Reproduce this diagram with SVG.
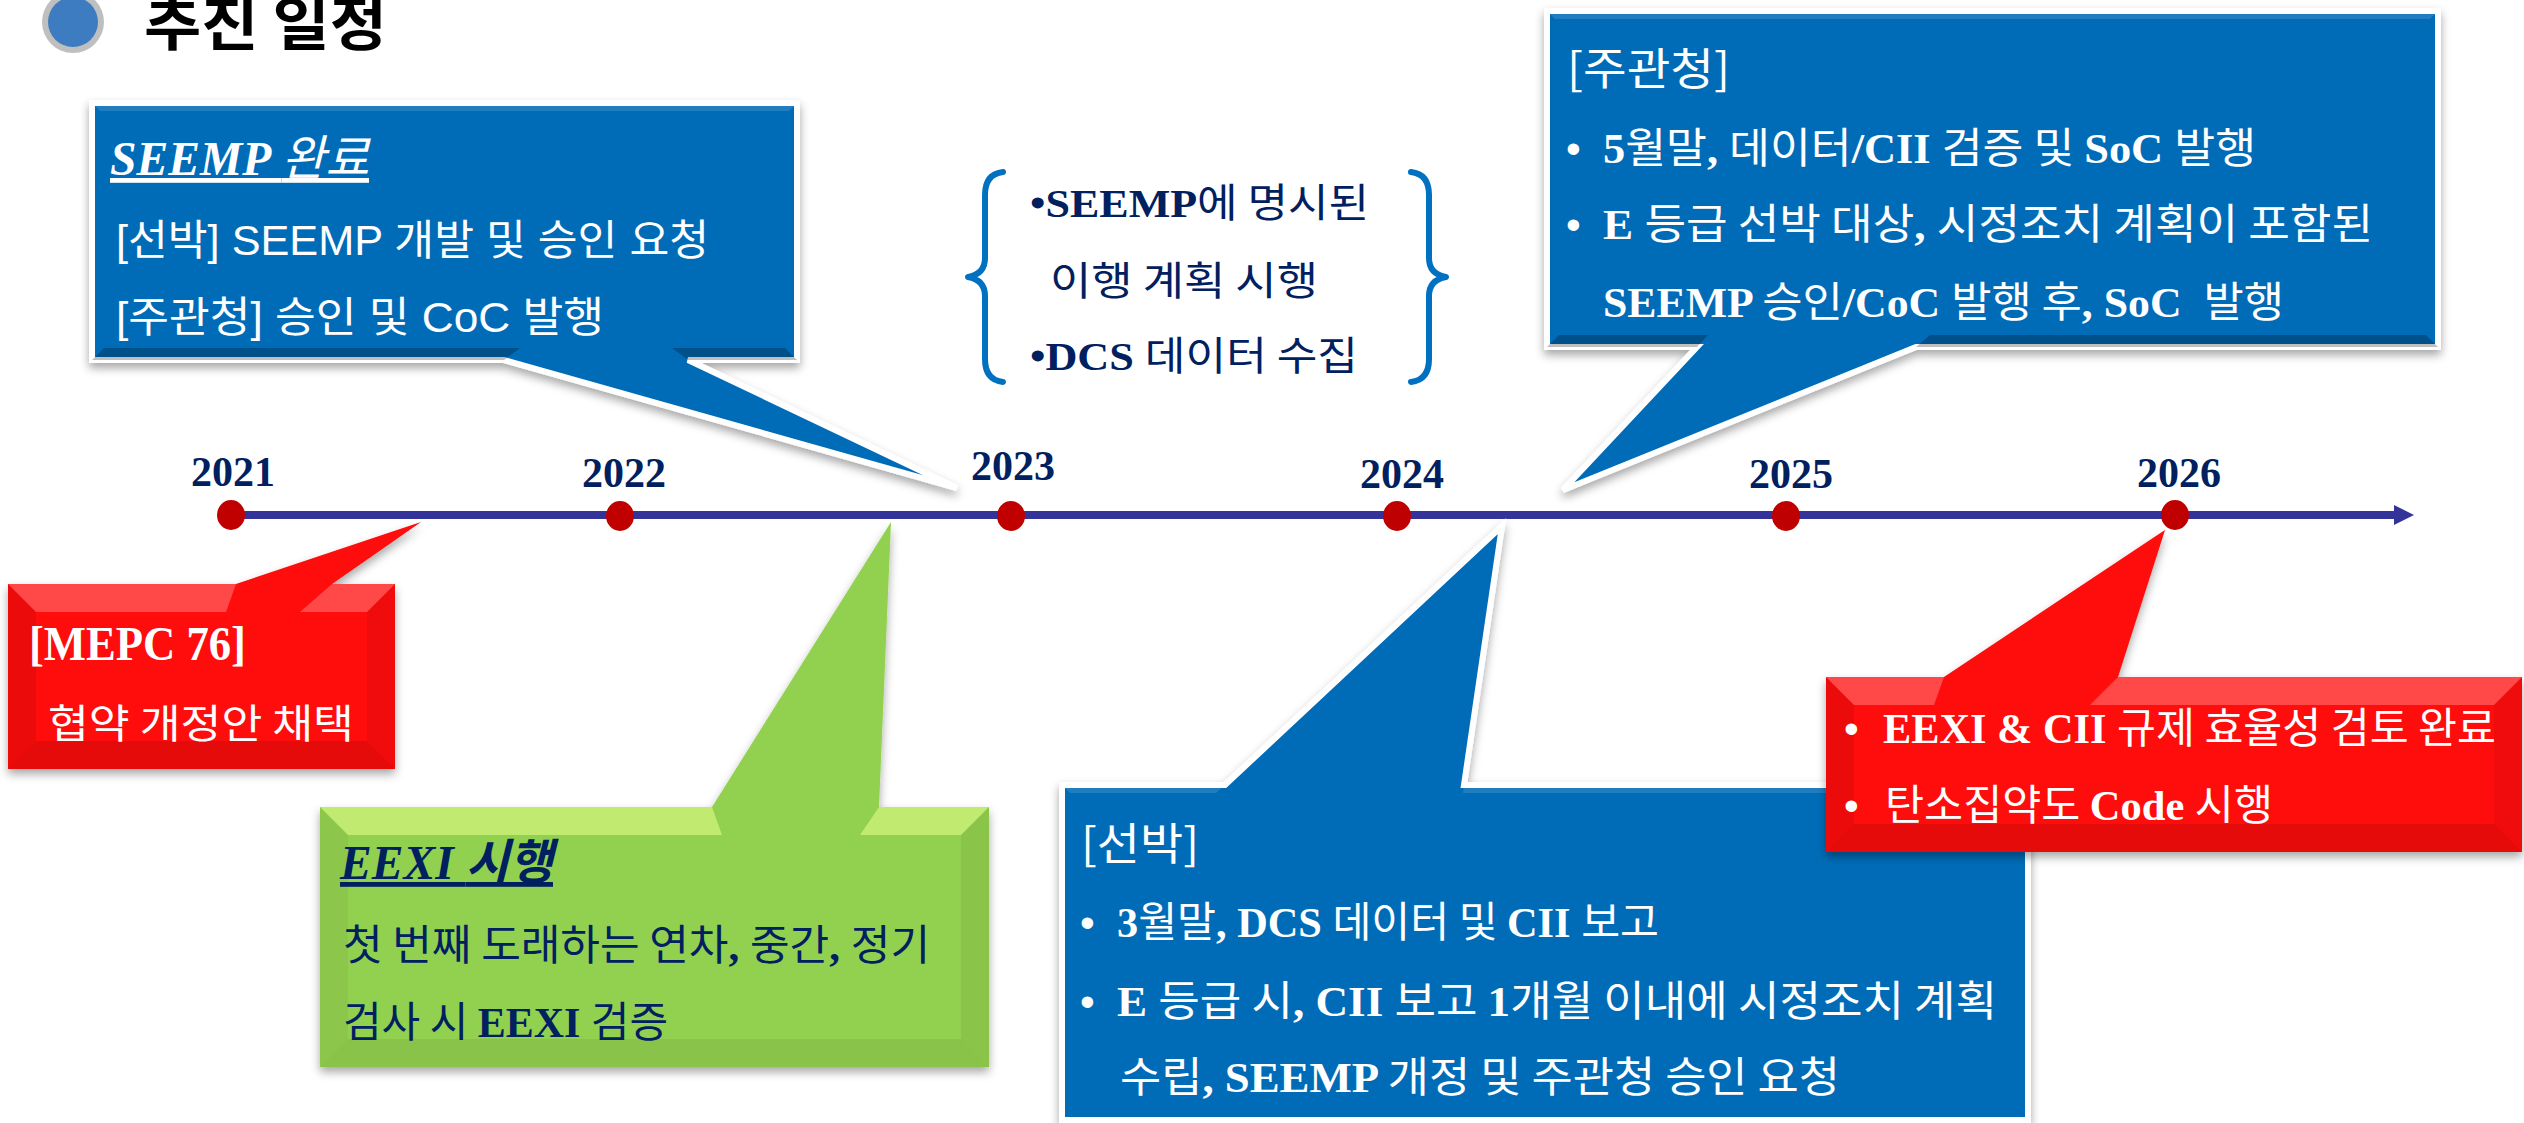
<svg xmlns="http://www.w3.org/2000/svg" width="2524" height="1123" viewBox="0 0 2524 1123">
<style>
.k{font-family:"Noto Sans CJK KR",sans-serif;}
.w{fill:#ffffff;}
.n{fill:#002060;}
.s{font-family:"Liberation Serif","Noto Sans CJK KR",serif;font-weight:bold;}
.a{font-family:"Liberation Sans","Noto Sans CJK KR",sans-serif;}
.yr{font-family:"Liberation Serif",serif;font-weight:bold;font-size:42px;fill:#002060;text-anchor:middle;}
.blue{fill:#006CB8;stroke:#ffffff;stroke-width:6;filter:url(#sh);}
.red{fill:#FF0808;filter:url(#sh);}
.green{fill:#92D050;filter:url(#sh);}
.hl{fill:#ffffff;}
.gl{fill:#E6FF8C;}
.dk{fill:#000000;}
.dot{fill:#C00000;}
.brace{fill:none;stroke:#0070C0;stroke-width:6;stroke-linecap:round;stroke-linejoin:round;}
</style>
<defs>
<filter id="sh" x="-10%" y="-10%" width="120%" height="130%">
<feDropShadow dx="0" dy="5" stdDeviation="5" flood-color="#000" flood-opacity="0.35"/>
</filter>
<marker id="arr" viewBox="0 0 10 10" refX="0" refY="5" markerWidth="2.5" markerHeight="2.5" orient="auto" markerUnits="strokeWidth">
<path d="M0,0 L10,5 L0,10 Z" fill="#333399"/>
</marker>
</defs>
<rect width="2524" height="1123" fill="#ffffff"/>

<g id="title">
<circle cx="73" cy="22" r="31" fill="#BFBFBF"/>
<circle cx="73" cy="22" r="25" fill="#3D7CC0"/>
<text x="144" y="45" class="k" font-size="58" font-weight="bold" fill="#000000" textLength="243" lengthAdjust="spacingAndGlyphs">추진 일정</text>
</g>

<g id="timeline">
<line x1="232" y1="515" x2="2394" y2="515" stroke="#333399" stroke-width="8" marker-end="url(#arr)"/>
</g>

<g id="years">
<g id="y2021"><ellipse class="dot" cx="231" cy="515" rx="14" ry="15"/><text class="yr" x="233" y="486">2021</text></g>
<g id="y2022"><ellipse class="dot" cx="620" cy="516" rx="14" ry="15"/><text class="yr" x="624" y="487">2022</text></g>
<g id="y2023"><ellipse class="dot" cx="1011" cy="516" rx="14" ry="15"/><text class="yr" x="1013" y="480">2023</text></g>
<g id="y2024"><ellipse class="dot" cx="1397" cy="516" rx="14" ry="15"/><text class="yr" x="1402" y="488">2024</text></g>
<g id="y2025"><ellipse class="dot" cx="1786" cy="516" rx="14" ry="15"/><text class="yr" x="1791" y="488">2025</text></g>
<g id="y2026"><ellipse class="dot" cx="2175" cy="515" rx="14" ry="15"/><text class="yr" x="2179" y="487">2026</text></g>
</g>

<g id="seemp-done">
<path class="blue" d="M92,103 H797 V360 H688 L957,488 L504,360 H92 Z"/>
<path class="hl" opacity="0.12" d="M92,103 H797 L789,111 H100 Z"/>
<path class="dk" opacity="0.25" d="M92,360 H504 L520,348 H104 Z M688,360 H797 L785,348 H672 Z"/>
<text x="110" y="175" class="k w" font-size="48" font-style="italic" text-decoration="underline" textLength="259" lengthAdjust="spacingAndGlyphs"><tspan font-family="Liberation Serif" font-weight="bold">SEEMP </tspan>완료</text>
<text x="116" y="255" class="a w" font-size="42" textLength="593" lengthAdjust="spacingAndGlyphs">[선박] SEEMP 개발 및 승인 요청</text>
<text x="116" y="332" class="a w" font-size="42" textLength="488" lengthAdjust="spacingAndGlyphs">[주관청] 승인 및 CoC 발행</text>
</g>

<g id="brace-note">
<path class="brace" d="M1003,172 Q985,174 985,195 V258 Q985,274 968,277 Q985,280 985,296 V359 Q985,380 1003,382"/>
<path class="brace" d="M1411,172 Q1429,174 1429,195 V258 Q1429,274 1446,277 Q1429,280 1429,296 V359 Q1429,380 1411,382"/>
<text x="1030" y="217" class="k n" font-size="40" textLength="339" lengthAdjust="spacingAndGlyphs"><tspan class="s">•SEEMP</tspan>에 명시된</text>
<text x="1050" y="295" class="k n" font-size="40" textLength="268" lengthAdjust="spacingAndGlyphs">이행 계획 시행</text>
<text x="1030" y="370" class="k n" font-size="40" textLength="328" lengthAdjust="spacingAndGlyphs"><tspan class="s">•DCS </tspan>데이터 수집</text>
</g>

<g id="authority-2024">
<path class="blue" d="M1547,11 H2438 V347 H1916 L1563,490 L1697,347 H1547 Z"/>
<path class="hl" opacity="0.12" d="M1547,11 H2438 L2430,19 H1555 Z"/>
<path class="dk" opacity="0.25" d="M1547,347 H1697 L1708,335 H1559 Z M1916,347 H2438 L2426,335 H1930 Z"/>
<text x="1567" y="85" class="k w" font-size="44" textLength="163" lengthAdjust="spacingAndGlyphs">[주관청]</text>
<text y="163" class="k w" font-size="42"><tspan x="1566" class="a">•</tspan><tspan x="1603" textLength="653" lengthAdjust="spacingAndGlyphs"><tspan class="s">5</tspan>월말<tspan class="s">, </tspan>데이터<tspan class="s">/CII </tspan>검증 및 <tspan class="s">SoC </tspan>발행</tspan></text>
<text y="239" class="k w" font-size="42"><tspan x="1566" class="a">•</tspan><tspan x="1603" textLength="770" lengthAdjust="spacingAndGlyphs"><tspan class="s">E </tspan>등급 선박 대상<tspan class="s">, </tspan>시정조치 계획이 포함된</tspan></text>
<text x="1603" y="317" class="k w" font-size="42" textLength="681" lengthAdjust="spacingAndGlyphs" xml:space="preserve"><tspan class="s">SEEMP </tspan>승인<tspan class="s">/CoC </tspan>발행 후<tspan class="s">, SoC  </tspan>발행</text>
</g>

<g id="mepc76">
<path class="red" d="M8,584 H236 L421,522 L332,584 H395 V769 H8 Z"/>
<path class="hl" opacity="0.25" d="M8,584 H236 L226,612 H36 Z M332,584 H395 L367,612 H300 Z"/>
<path class="dk" opacity="0.08" d="M8,584 L36,612 V741 L8,769 Z"/>
<path class="dk" opacity="0.06" d="M395,584 L367,612 V741 L395,769 Z"/>
<path class="dk" opacity="0.1" d="M8,769 H395 L367,741 H36 Z"/>
<text x="29" y="660" class="s w" font-size="48" textLength="217" lengthAdjust="spacingAndGlyphs">[MEPC 76]</text>
<text x="48" y="738" class="k w" font-size="40" textLength="306" lengthAdjust="spacingAndGlyphs">협약 개정안 채택</text>
</g>

<g id="eexi">
<path class="green" d="M320,807 H712 L891,522 L879,807 H989 V1067 H320 Z"/>
<path class="gl" opacity="0.55" d="M320,807 H712 L722,835 H348 Z M879,807 H989 L961,835 H860 Z"/>
<path class="dk" opacity="0.04" d="M320,807 L348,835 V1039 L320,1067 Z"/>
<path class="dk" opacity="0.05" d="M989,807 L961,835 V1039 L989,1067 Z"/>
<path class="dk" opacity="0.06" d="M320,1067 H989 L961,1039 H348 Z"/>
<text x="340" y="879" class="k n" font-size="48" font-style="italic" font-weight="bold" text-decoration="underline" textLength="213" lengthAdjust="spacingAndGlyphs"><tspan class="s">EEXI </tspan>시행</text>
<text x="343" y="960" class="k n" font-size="42" textLength="587" lengthAdjust="spacingAndGlyphs">첫 번째 도래하는 연차<tspan class="s">, </tspan>중간<tspan class="s">, </tspan>정기</text>
<text x="343" y="1037" class="k n" font-size="42" textLength="325" lengthAdjust="spacingAndGlyphs">검사 시 <tspan class="s">EEXI </tspan>검증</text>
</g>

<g id="ship-2024">
<path class="blue" d="M1062,785 H1225 L1502,526 L1464,785 H2028 V1120 H1062 Z"/>
<path class="hl" opacity="0.12" d="M1062,785 H1225 L1216,793 H1070 Z M1464,785 H2028 L2020,793 H1463 Z"/>
<text x="1081" y="860" class="k w" font-size="44" textLength="118" lengthAdjust="spacingAndGlyphs">[선박]</text>
<text y="937" class="k w" font-size="42"><tspan x="1080" class="a">•</tspan><tspan x="1117" textLength="542" lengthAdjust="spacingAndGlyphs"><tspan class="s">3</tspan>월말<tspan class="s">, DCS </tspan>데이터 및 <tspan class="s">CII </tspan>보고</tspan></text>
<text y="1016" class="k w" font-size="42"><tspan x="1080" class="a">•</tspan><tspan x="1117" textLength="880" lengthAdjust="spacingAndGlyphs"><tspan class="s">E </tspan>등급 시<tspan class="s">, CII </tspan>보고 <tspan class="s">1</tspan>개월 이내에 시정조치 계획</tspan></text>
<text x="1120" y="1092" class="k w" font-size="42" textLength="720" lengthAdjust="spacingAndGlyphs">수립<tspan class="s">, SEEMP </tspan>개정 및 주관청 승인 요청</text>
</g>

<g id="review-2026">
<path class="red" d="M1826,677 H1944 L2165,530 L2118,677 H2522 V852 H1826 Z"/>
<path class="hl" opacity="0.25" d="M1826,677 H1944 L1934,705 H1854 Z M2118,677 H2522 L2494,705 H2090 Z"/>
<path class="dk" opacity="0.08" d="M1826,677 L1854,705 V824 L1826,852 Z"/>
<path class="dk" opacity="0.06" d="M2522,677 L2494,705 V824 L2522,852 Z"/>
<path class="dk" opacity="0.1" d="M1826,852 H2522 L2494,824 H1854 Z"/>
<text y="743" class="k w" font-size="42"><tspan x="1844" class="a">•</tspan><tspan x="1883" textLength="613" lengthAdjust="spacingAndGlyphs"><tspan class="s">EEXI &amp; CII </tspan>규제 효율성 검토 완료</tspan></text>
<text y="820" class="k w" font-size="42"><tspan x="1844" class="a">•</tspan><tspan x="1885" textLength="388" lengthAdjust="spacingAndGlyphs">탄소집약도 <tspan class="s">Code </tspan>시행</tspan></text>
</g>
</svg>
